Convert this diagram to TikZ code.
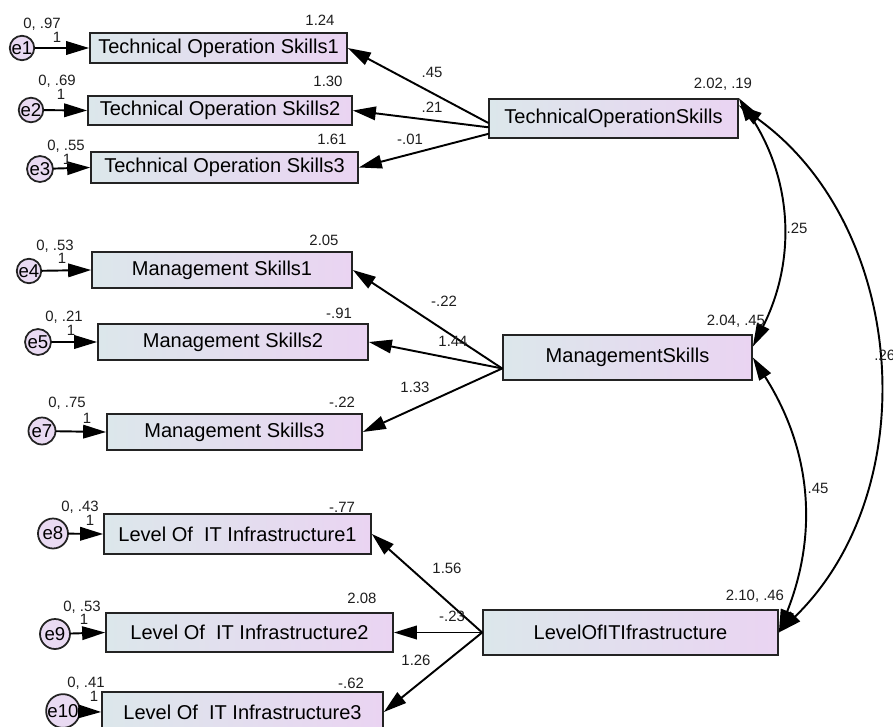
\documentclass[tikz,border=0pt]{standalone}
\usepackage{fontspec}
\setmainfont{Liberation Sans}
\usepackage{tikz}
\usetikzlibrary{arrows.meta}

\begin{document}
\begin{tikzpicture}
		[x=0.02cm,y=-0.02cm,line cap=round,
		%Styles
		obs/.style={draw=boxline,line width=1pt,left color=boxleft,right color=boxright,inner sep=0pt,font=\fontsize{11.4}{13}\selectfont},
		err/.style={circle,draw=boxline,line width=1pt,fill=errfill,inner sep=0pt,font=\fontsize{10.6}{12}\selectfont},
		num/.style={inner sep=0pt,text=numcolor,font=\fontsize{8.5}{10}\selectfont},
		load/.style={line width=1.1pt,-{Triangle[length=0.46cm,width=0.27cm]}},
		cov/.style={line width=1.1pt,{Triangle[length=0.46cm,width=0.27cm]}-{Triangle[length=0.46cm,width=0.27cm]}}
		]
		
		%Colors
		\definecolor{boxline}{RGB}{35,35,35}
		\definecolor{boxleft}{RGB}{220,231,235}
		\definecolor{boxright}{RGB}{234,212,242}
		\definecolor{errfill}{RGB}{233,218,242}
		\definecolor{numcolor}{RGB}{30,30,30}
		
		\useasboundingbox (0,0) rectangle (893,727);
		
		%Latent variables
		\node[obs,minimum width=4.98cm,minimum height=0.78cm] (tos) at (613.5,118.5) {TechnicalOperationSkills};
		\node[obs,minimum width=4.98cm,minimum height=0.90cm] (ms) at (627.5,357.5) {ManagementSkills};
		\node[obs,minimum width=5.90cm,minimum height=0.90cm] (lit) at (630.5,632.5) {LevelOfITIfrastructure};
		
		%Observed variables
		\node[obs,minimum width=5.14cm,minimum height=0.60cm] (tos1) at (218.5,48) {Technical Operation Skills1};
		\node[obs,minimum width=5.28cm,minimum height=0.58cm] (tos2) at (220,110.5) {Technical Operation Skills2};
		\node[obs,minimum width=5.34cm,minimum height=0.62cm] (tos3) at (224.5,167.5) {Technical Operation Skills3};
		\node[obs,minimum width=5.20cm,minimum height=0.72cm] (ms1) at (222,270) {Management Skills1};
		\node[obs,minimum width=5.40cm,minimum height=0.72cm] (ms2) at (233,342) {Management Skills2};
		\node[obs,minimum width=5.10cm,minimum height=0.72cm] (ms3) at (234.5,432) {Management Skills3};
		\node[obs,minimum width=5.34cm,minimum height=0.80cm] (lit1) at (237.5,534) {Level Of\ \ IT Infrastructure1};
		\node[obs,minimum width=5.74cm,minimum height=0.78cm] (lit2) at (249.5,632.5) {Level Of\ \ IT Infrastructure2};
		\node[obs,minimum width=5.62cm,minimum height=0.80cm] (lit3) at (242.5,712) {Level Of\ \ IT Infrastructure3};
		
		%Errors
		\node[err,minimum size=0.40cm] (e1) at (22,48) {e1};
		\node[err,minimum size=0.48cm] (e2) at (31,110) {e2};
		\node[err,minimum size=0.52cm] (e3) at (40,169) {e3};
		\node[err,minimum size=0.48cm] (e4) at (29,271) {e4};
		\node[err,minimum size=0.52cm] (e5) at (38,342) {e5};
		\node[err,minimum size=0.54cm] (e7) at (42,431) {e7};
		\node[err,minimum size=0.60cm] (e8) at (53,533.5) {e8};
		\node[err,minimum size=0.60cm] (e9) at (55,634) {e9};
		\node[err,minimum size=0.54cm] (e10) at (63,711) {e10};
		
		%Error arrows
		\draw[load] (e1) -- (tos1.west);
		\draw[load] (e2) -- (tos2.west);
		\draw[load] (e3) -- (tos3.west);
		\draw[load] (e4) -- (ms1.west);
		\draw[load] (e5) -- (ms2.west);
		\draw[load] (e7) -- (ms3.west);
		\draw[load] (e8) -- (lit1.west);
		\draw[load] (e9) -- (lit2.west);
		\draw[load] (e10) -- (lit3.west);
		
		%Loadings
		\draw[load] (tos.182) -- (tos1.east);
		\draw[load] (tos.184) -- (tos2.east);
		\draw[load] (tos.187) -- (tos3.east);
		\draw[load] (ms.185) -- (ms1.east);
		\draw[load] (ms.185) -- (ms2.east);
		\draw[load] (ms.185) -- (ms3.east);
		\draw[load] (lit.west) -- (lit1.east);
		\draw[load] (lit.west) -- (lit2.east);
		\draw[load] (lit.west) -- (lit3.east);
		
		%Covariances
		\draw[cov] (tos.north east) to[bend left=30] (ms.5);
		\draw[cov] (ms.east) to[bend left=27] (lit.east);
		\draw[cov] (tos.6) to[bend left=50] (lit.east);
		
		%Estimates
		\node[num] (v1) at (42,24) {0, .97};
		\node[num] (w1) at (57,37) {1};
		\node[num] (v2) at (57,81) {0, .69};
		\node[num] (w2) at (61,94) {1};
		\node[num] (v3) at (66,146) {0, .55};
		\node[num] (w3) at (67,159) {1};
		\node[num] (v4) at (55,246) {0, .53};
		\node[num] (w4) at (62,258) {1};
		\node[num] (v5) at (64,317) {0, .21};
		\node[num] (w5) at (71,330) {1};
		\node[num] (v7) at (67,403) {0, .75};
		\node[num] (w7) at (87,418) {1};
		\node[num] (v8) at (80,507) {0, .43};
		\node[num] (w8) at (90,520) {1};
		\node[num] (v9) at (82,607) {0, .53};
		\node[num] (w9) at (84,619) {1};
		\node[num] (v10) at (86,683) {0, .41};
		\node[num] (w10) at (94,696) {1};
		
		\node[num] (i1) at (320,20) {1.24};
		\node[num] (i2) at (328,81) {1.30};
		\node[num] (i3) at (332,139) {1.61};
		\node[num] (i4) at (324,240) {2.05};
		\node[num] (i5) at (339,313) {-.91};
		\node[num] (i6) at (342,402) {-.22};
		\node[num] (i7) at (342,507) {-.77};
		\node[num] (i8) at (362,598) {2.08};
		\node[num] (i9) at (351,683) {-.62};
		
		\node[num] (m1) at (723,84) {2.02, .19};
		\node[num] (m2) at (736,321) {2.04, .45};
		\node[num] (m3) at (755,596) {2.10, .46};
		
		\node[num] (l1) at (432,72) {.45};
		\node[num] (l2) at (432,107) {.21};
		\node[num] (l3) at (410,139) {-.01};
		\node[num] (l4) at (444,301) {-.22};
		\node[num] (l5) at (453,341) {1.44};
		\node[num] (l6) at (415,387) {1.33};
		\node[num] (l7) at (447,568) {1.56};
		\node[num] (l8) at (452,616) {-.23};
		\node[num] (l9) at (416,660) {1.26};
		
		\node[num] (r1) at (797,228) {.25};
		\node[num] (r2) at (818,488) {.45};
		\node[num,anchor=west] (r3) at (874,355) {.26};
	\end{tikzpicture}
\end{document}
